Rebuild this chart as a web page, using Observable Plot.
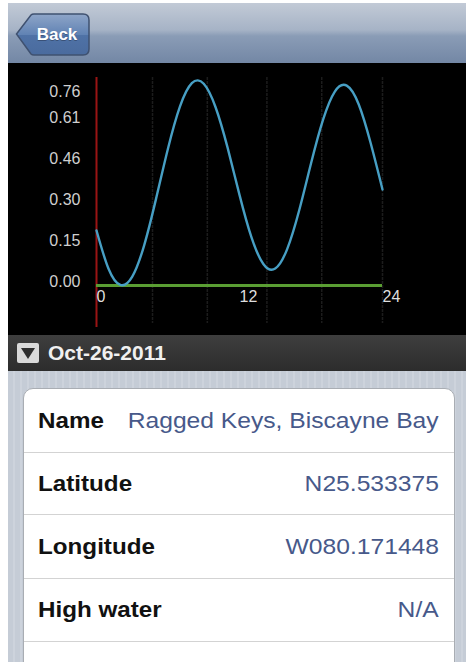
<!DOCTYPE html>
<html>
<head>
<meta charset="utf-8">
<script src="https://cdn.jsdelivr.net/npm/d3@7"></script>
<script src="https://cdn.jsdelivr.net/npm/@observablehq/plot@0.6"></script>
<style>
  html, body { margin: 0; padding: 0; }
  body { width: 474px; height: 662px; overflow: hidden; background: #fff; position: relative; font-family: "Liberation Sans", Arial, Helvetica, sans-serif; }
  .abs { position: absolute; }
  #nav { left: 8px; top: 3px; width: 458px; height: 60px;
    background: linear-gradient(#c2cad6 0%, #a6b3c6 45%, #8a9cb6 55%, #7387a5 100%);
    border-bottom: 2px solid #2c3440; }
  #back { left: 15px; top: 13px; }
  #chart { left: 8px; top: 63px; width: 458px; height: 272px; background: #000; overflow: hidden; }
  #datebar { left: 8px; top: 335px; width: 458px; height: 36px;
    background: linear-gradient(#3e3e3e, #2c2c2c); }
  #datebar .icon { position: absolute; left: 9px; top: 8px; width: 22px; height: 20px; background: #d9d9d9; border-radius: 2px; }
  #datebar .icon:after { content: ""; position: absolute; left: 4px; top: 5px; border-left: 7px solid transparent; border-right: 7px solid transparent; border-top: 11px solid #2e2e2e; }
  #datebar .txt { position: absolute; left: 40px; top: 6px; font-size: 21px; font-weight: bold; color: #f0f0f0; line-height: 24px; }
  #table { left: 8px; top: 371px; width: 458px; height: 291px;
    background: repeating-linear-gradient(90deg, #c5ccd6 0px, #c5ccd6 5px, #cdd3dc 5px, #cdd3dc 7px); }
  #card { left: 23px; top: 388px; width: 432px; height: 300px; background: #fff; border: 1px solid #a9adb3; border-radius: 10px; box-sizing: border-box; overflow: hidden; }
  .row { position: absolute; left: 0; width: 100%; border-bottom: 1px solid #d3d3d3; box-sizing: border-box; }
  .lab { position: absolute; left: 14px; top: 50%; transform: translateY(-50%) scaleX(1.1); transform-origin: left center; font-size: 22px; font-weight: bold; color: #111; white-space: nowrap; }
  .val { position: absolute; right: 15px; top: 50%; transform: translateY(-50%) scaleX(1.12); transform-origin: right center; font-size: 22px; color: #47598a; white-space: nowrap; }
</style>
</head>
<body>
<div id="nav" class="abs"></div>
<svg id="back" class="abs" width="76" height="44" viewBox="0 0 76 44">
  <defs>
    <linearGradient id="bg" x1="0" y1="0" x2="0" y2="1">
      <stop offset="0" stop-color="#8ea5c8"/>
      <stop offset="0.5" stop-color="#6183b4"/>
      <stop offset="0.52" stop-color="#4f72a6"/>
      <stop offset="1" stop-color="#4a6b9e"/>
    </linearGradient>
  </defs>
  <path d="M1.5 21 L16 2 Q17 1 19 1 L68 1 Q74 1 74 7 L74 36 Q74 42 68 42 L19 42 Q17 42 16 41 Z" fill="url(#bg)" stroke="#3f5170" stroke-width="1.5"/>
  <text x="42" y="28" text-anchor="middle" font-family="Liberation Sans, Arial, sans-serif" font-size="17" font-weight="bold" fill="#2d3e5c" opacity="0.6">Back</text>
  <text x="42" y="27" text-anchor="middle" font-family="Liberation Sans, Arial, sans-serif" font-size="17" font-weight="bold" fill="#fff">Back</text>
</svg>
<div id="chart" class="abs"></div>
<div id="datebar" class="abs"><div class="icon"></div><div class="txt">Oct-26-2011</div></div>
<div id="table" class="abs"></div>
<div id="card" class="abs"></div>
<script>
// ---- data ----
const hours = [0, 1, 2, 3, 4, 5, 6, 7, 8, 9, 10, 11, 12, 13, 14, 15, 16, 17, 18, 19, 20, 21, 22, 23, 24];
const tideLevel = [0.204, 0.063, 0.002, 0.033, 0.149, 0.322, 0.508, 0.663, 0.750, 0.748, 0.660, 0.511, 0.336, 0.179, 0.080, 0.063, 0.135, 0.277, 0.452, 0.613, 0.719, 0.741, 0.672, 0.529, 0.356];
const xTicks = [0, 12, 24];
const yTicks = [0, 0.152, 0.304, 0.456, 0.608];
const yTopTick = [0.76];
const gridHours = [4.7, 9.3, 14.3, 18.9, 24];
const nowHour = [0];
const rowLabels = ["Name", "Latitude", "Longitude", "High water", ""];
const rowValues = ["Ragged Keys, Biscayne Bay", "N25.533375", "W080.171448", "N/A", ""];
const dateLabel = "Oct-26-2011";

const data = hours.map((h, i) => ({hour: h, level: tideLevel[i]}));
const fmt = d => d.toFixed(2);

const chart = Plot.plot({
  width: 458,
  height: 272,
  marginLeft: 88,
  marginRight: 84,
  marginTop: 17,
  marginBottom: 50,
  x: {domain: [0, 24], label: null},
  y: {domain: [0, 0.76], label: null},
  style: {background: "#000", fontFamily: "Liberation Sans, Arial, sans-serif", fontSize: "16px", color: "#cfcfcf", overflow: "visible"},
  marks: [
    Plot.ruleX(gridHours, {stroke: "#1c1c1c", strokeWidth: 1.5, strokeDasharray: "3,1", insetTop: -3, insetBottom: -38}),
    Plot.ruleX(nowHour, {stroke: "#9a1414", strokeWidth: 2, insetTop: -3, insetBottom: -42}),
    Plot.ruleY([0], {stroke: "#5a9e33", strokeWidth: 3}),
    Plot.line(data, {x: "hour", y: "level", stroke: "#479fc4", strokeWidth: 2.4, curve: "natural"}),
    Plot.axisY(yTicks, {tickSize: 0, tickPadding: 16, tickFormat: fmt, dy: -4, fill: "#cfcfcf", label: null}),
    Plot.axisY(yTopTick, {tickSize: 0, tickPadding: 16, tickFormat: fmt, dy: 11, fill: "#cfcfcf", label: null}),
    Plot.axisX(xTicks, {tickSize: 0, tickPadding: 5, textAnchor: "start", fill: "#dedede", label: null})
  ]
});
document.getElementById("chart").appendChild(chart);
document.querySelector("#datebar .txt").textContent = dateLabel;

const card = document.getElementById("card");
const rowTops = [0, 64, 126, 190, 253];
const rowHeights = [64, 62, 64, 63, 63];
rowLabels.forEach((lab, i) => {
  const r = document.createElement("div");
  r.className = "row";
  r.style.top = rowTops[i] + "px";
  r.style.height = rowHeights[i] + "px";
  if (lab) {
    const l = document.createElement("span"); l.className = "lab"; l.textContent = lab; r.appendChild(l);
    const v = document.createElement("span"); v.className = "val"; v.textContent = rowValues[i]; r.appendChild(v);
  }
  card.appendChild(r);
});
</script>
</body>
</html>
